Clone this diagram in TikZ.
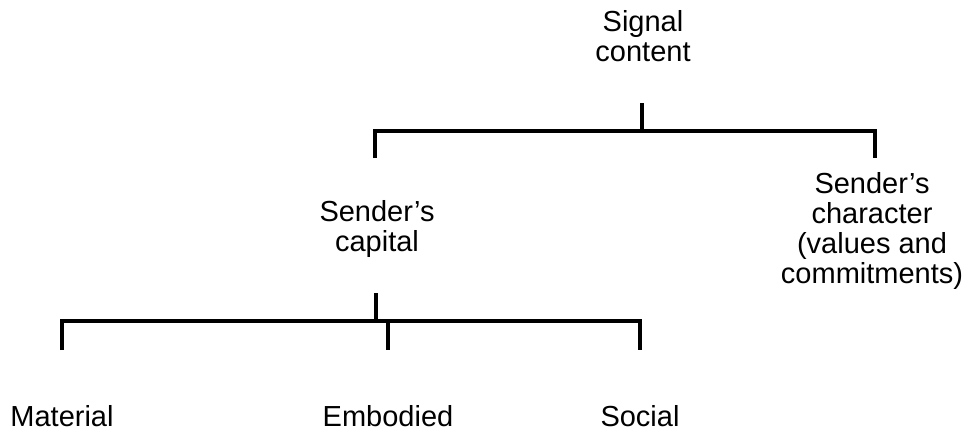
\documentclass[tikz,border=0pt]{standalone}
\usepackage{fontspec}
\setmainfont{Liberation Sans}
\usetikzlibrary{calc}
\tikzset{
    lbl/.style={align=center, inner sep=0pt, anchor=north, font=\fontsize{29}{30}\selectfont},
    brace/.style={line width=4.5pt}
}
\begin{document}
\begin{tikzpicture}[x=1pt,y=-1pt]
\useasboundingbox (0,0) rectangle (973,432);
\node[lbl] (S) at (643,10) {Signal\\content};
\node[lbl] (C) at (377,200) {Sender’s\\capital};
\node[lbl] (H) at (872,172) {Sender’s\\character\\(values and\\commitments)};
\node[lbl] (M) at (62,405) {Material};
\node[lbl] (E) at (388,405) {Embodied};
\node[lbl] (O) at (640,405) {Social};
% upper bracket
\coordinate (T) at (642,103);
\coordinate (T0) at (T|-0,131);
\coordinate (L) at (375,158);
\coordinate (R) at (875,158);
\draw[brace] (T) -- (T0);
\draw[brace] (L) -- (L|-T0) -- (R|-T0) -- (R);
% lower bracket
\coordinate (B) at (376,293);
\coordinate (B0) at (B|-0,321);
\coordinate (M1) at (62,350);
\coordinate (E1) at (388,350);
\coordinate (O1) at (640,350);
\draw[brace] (B) -- (B0);
\draw[brace] (M1) -- (M1|-B0) -- (O1|-B0) -- (O1);
\draw[brace] (E1|-B0) -- (E1);
\end{tikzpicture}
\end{document}
